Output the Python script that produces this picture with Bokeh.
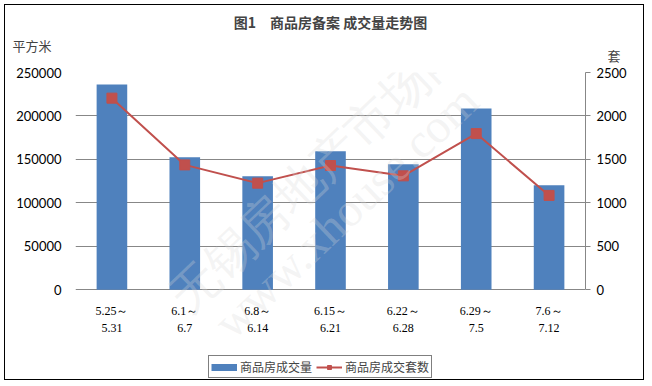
from bokeh.plotting import figure
from bokeh.models import (Range1d, LinearAxis, FixedTicker, Title, Legend, LegendItem,
                          ColumnDataSource, NumeralTickFormatter)
from bokeh.embed import file_html
from bokeh.resources import INLINE

cat_start = ["5.25～", "6.1～", "6.8～", "6.15～", "6.22～", "6.29～", "7.6～"]
cat_end = ["5.31", "6.7", "6.14", "6.21", "6.28", "7.5", "7.12"]
area = [236200, 152500, 130700, 159400, 144500, 208700, 120400]
units = [2205, 1437, 1227, 1430, 1311, 1797, 1086]
left_ticks = [0, 50000, 100000, 150000, 200000, 250000]
right_ticks = [0, 500, 1000, 1500, 2000, 2500]
watermark = ["无锡房地产市场网", "www.xhouse.com"]

BLUE = "#4F81BD"
RED = "#C0504D"
GRID = "#878787"
CJK = "Noto Sans CJK SC"
NUM = "Lato"

# layout: 218 px of plot height per 250000 units, frame extends 92 px below zero
L_MAX = 250000
PX = 218.0
UPP = L_MAX / PX             # data units per pixel (left axis)
Y_MIN = -92 * UPP
R_SCALE = 2500 / L_MAX
NAN = float("nan")

xs = list(range(len(cat_start)))
n = len(xs)
src = ColumnDataSource(dict(x=xs, area=area, units=units, s=cat_start, e=cat_end,
                            y1=[-21 * UPP] * n, y2=[-38 * UPP] * n, nan=[NAN] * n))

p = figure(width=640, height=376, output_backend="svg", toolbar_location=None,
           x_range=Range1d(-0.5, n - 0.5), y_range=Range1d(Y_MIN, L_MAX),
           min_border_left=70, min_border_right=60, min_border_top=66, min_border_bottom=0)
p.extra_y_ranges = {"r": Range1d(Y_MIN * R_SCALE, 2500)}
p.outline_line_color = None
p.background_fill_color = "white"
p.border_fill_color = "white"
p.styles = {"border": "1px solid black", "margin": "4px"}

# unit titles (closest to frame first)
t_tao = Title(text="套", align="right", offset=-35, standoff=16, vertical_align="bottom",
              text_font=CJK, text_font_size="13px", text_font_style="normal")
t_pfm = Title(text="平方米", align="left", offset=-63, standoff=-38, vertical_align="bottom",
              text_font=CJK, text_font_size="13px", text_font_style="normal")
p.add_layout(t_tao, "above")
p.add_layout(t_pfm, "above")

p.title.text = "图1　商品房备案 成交量走势图"
p.title.align = "center"
p.title.text_font = CJK
p.title.text_font_size = "14px"
p.title.text_font_style = "bold"
p.title.standoff = 8
p.title.offset = 0

bars = p.vbar(x="x", top="area", width=0.42, source=src, fill_color=BLUE, line_color=None)
ln = p.line(x="x", y="units", source=src, y_range_name="r", line_color=RED, line_width=2)
mk = p.scatter(x="x", y="units", source=src, y_range_name="r", marker="square", size=10,
               fill_color=RED, line_color=RED)
bar_key = p.line(x="x", y="nan", source=src, line_color=BLUE, line_width=7)

# category labels below the zero line
p.text(x="x", y="y1", text="s", source=src, text_font=NUM, text_font_size="12px",
       text_align="center", text_baseline="middle", text_color="black")
p.text(x="x", y="y2", text="e", source=src, text_font=NUM, text_font_size="12px",
       text_align="center", text_baseline="middle", text_color="black")

# faint diagonal watermark
wm = ColumnDataSource(dict(t=watermark, x=[2.81, 3.21], y=[136500, 90600]))
p.text(x="x", y="y", text="t", source=wm, angle=0.76, text_font=CJK,
       text_font_size="48px", text_align="center", text_baseline="middle",
       text_color="#d9d9d9", text_alpha=0.3)

# left axis
ya = p.yaxis[0]
ya.ticker = FixedTicker(ticks=left_ticks)
ya.formatter = NumeralTickFormatter(format="0")
ya.axis_line_color = None
ya.major_tick_line_color = None
ya.minor_tick_line_color = None
ya.major_label_standoff = 8
ya.major_label_text_font = NUM
ya.major_label_text_font_size = "13px"
ya.major_label_text_color = "black"

p.ygrid.ticker = FixedTicker(ticks=left_ticks)
p.ygrid.grid_line_color = GRID
p.xgrid.grid_line_color = None
p.xaxis.visible = False

# right axis
ra = LinearAxis(y_range_name="r", ticker=FixedTicker(ticks=right_ticks), bounds=(0, 2500))
ra.axis_line_color = GRID
ra.major_tick_line_color = GRID
ra.major_tick_out = 5
ra.major_tick_in = 0
ra.minor_tick_line_color = None
ra.major_label_standoff = 6
ra.major_label_text_font = NUM
ra.major_label_text_font_size = "13px"
ra.major_label_text_color = "black"
p.add_layout(ra, "right")

legend = Legend(items=[LegendItem(label="商品房成交量", renderers=[bar_key]),
                       LegendItem(label="商品房成交套数", renderers=[ln, mk])],
                orientation="horizontal", location=(133, 3),
                border_line_color="black", border_line_width=1,
                label_text_font=CJK, label_text_font_size="12px",
                glyph_width=26, glyph_height=10, label_height=12,
                padding=2, spacing=4, margin=0, label_standoff=3)
p.add_layout(legend, "center")

open("out.html", "w").write(file_html(p, INLINE))
